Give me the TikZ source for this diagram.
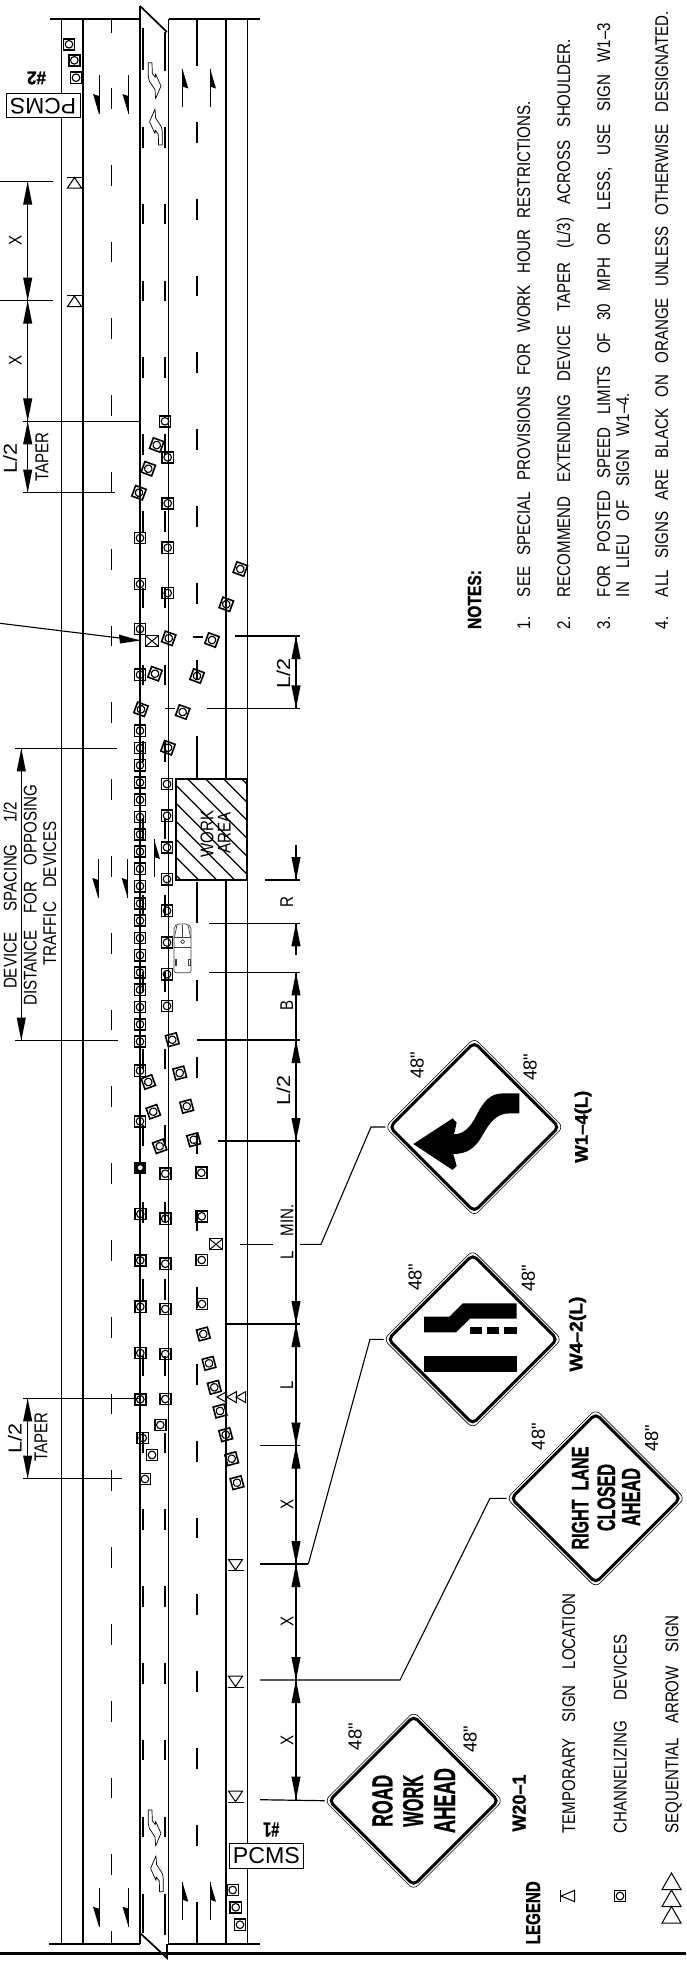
\documentclass[tikz,border=0pt]{standalone}
\usepackage{fontspec}
\usepackage{graphicx}
\setmainfont[FakeStretch=0.82]{Liberation Sans}
\newfontfamily\plainsans{Liberation Sans}
\newfontfamily\heavy[FakeBold=1.2]{Liberation Sans Bold}
\tikzset{
  road/.style={line width=.85pt,black},
  lanedash/.style={line width=.85pt,black},
  meddash/.style={line width=1pt,black},
  dimline/.style={line width=.65pt,black},
  tick/.style={line width=.6pt,black},
  leader/.style={line width=.55pt,black},
  conebox/.style={line width=.8pt,black},
  conering/.style={line width=.55pt,black},
  thinsym/.style={line width=.5pt,black},
  rt/.style={rotate=90,inner sep=0pt,outer sep=0pt,anchor=base,font=\fontsize{9.2}{10}\selectfont},
  rts/.style={rotate=90,inner sep=0pt,outer sep=0pt,anchor=base west,font=\fontsize{9.2}{10}\selectfont},
  signouter/.style={line width=.3pt,black,rounded corners=3pt,fill=white},
  signinner/.style={line width=1.5pt,black,rounded corners=2.5pt},
}
\newcommand{\cone}[3]{\begin{scope}[shift={(#1,#2)},rotate=#3]
  \draw[conebox] (-5.6,-5.6) rectangle (5.6,5.6);
  \draw[conering] (0,0) circle (3.8);
\end{scope}}
\newcommand{\ah}[3]{\fill[black] (#1,#2) -- (#1-4.6,#2-23*#3) -- (#1+4.6,#2-23*#3) -- cycle;}
\newcommand{\tsign}[3]{\begin{scope}[shift={(#1,#2)},rotate=#3]
  \draw[thinsym,line join=miter] (-7,-5.5) -- (7,-5.5) -- (0,5) -- cycle;
  \draw[thinsym] (-8,5.5) -- (8,5.5);
\end{scope}}
\newcommand{\xbox}[2]{\begin{scope}[shift={(#1,#2)}]
  \draw[thinsym,fill=white] (-6.8,-5.6) rectangle (6.8,5.6);
  \draw[thinsym] (-6.8,-5.6) -- (6.8,5.6) (-6.8,5.6) -- (6.8,-5.6);
\end{scope}}
\newcommand{\halfarrow}[4]{% x, tail y, tip y, side
  \draw[line width=.5pt] (#1,#2) -- (#1,#3);
  \pgfmathsetmacro{\dd}{(#3-#2)>0?1:-1}
  \fill[black] (#1,#3) -- (#1+#4*6,#3-\dd*20) -- (#1,#3-\dd*18) -- cycle;}
\newcommand{\turn}[3]{\begin{scope}[shift={(#1,#2)},rotate=#3]
  \draw[line width=.35pt,line join=round,black] (0,0) -- (3.7,0) -- (4,10.7) -- (7,14.7) -- (7.3,11.3) -- (12.7,23.3) -- (7.3,36) -- (6.7,27) -- (1,18.3) -- (0,13.3) -- cycle;
\end{scope}}
\newcommand{\diamondsign}[3]{% x y name
  \coordinate (#3) at (#1-89,#2);
  \draw[signouter] (#1-89,#2) -- (#1,#2-89) -- (#1+89,#2) -- (#1,#2+89) -- cycle;
  \draw[signinner] (#1-84.5,#2) -- (#1,#2-84.5) -- (#1+84.5,#2) -- (#1,#2+84.5) -- cycle;}
\newcommand{\fortyeight}[2]{\node[rotate=90,inner sep=0pt,outer sep=0pt] at (#1,#2) {\resizebox{13.5pt}{6.6pt}{\plainsans 48"}};}
\newcommand{\halfL}{\resizebox{15pt}{6.8pt}{L/2}}
\newcommand{\tapr}{\resizebox{24.5pt}{6.4pt}{TAPER}}
\begin{document}
\begin{tikzpicture}[x=.5pt,y=-.5pt,line cap=butt]
\useasboundingbox (0,0) rectangle (686,1965);
\fill[white] (0,0) rectangle (686,1965);

% --- road edges
\foreach \xx in {61.5,83,226,247.5} \draw[road] (\xx,19) -- (\xx,1944);
\draw[road] (140,6) -- (140,1944);
\draw[road] (168.5,19) -- (168.5,1944);
\draw[road] (50,19) -- (140,19);
\draw[road] (168.5,19) -- (260,19);
\draw[road] (49,1944) -- (140,1944);
\draw[road] (168,1944) -- (259.5,1944);
\draw[road] (140,6) -- (167,32);
\draw[road] (140,1933) -- (167,1958) -- (167,1944);
\draw[line width=1.3pt] (0,1953.3) -- (686,1953.3);

% --- lane dashes
\draw[lanedash] (111.5,19) -- (111.5,33);
\foreach \k in {0,...,23} \draw[lanedash] (111.5,88+76.8*\k) -- (111.5,108.7+76.8*\k);
\draw[lanedash] (111.5,1931) -- (111.5,1944);
\draw[lanedash] (197,19) -- (197,66);
\foreach \k in {0,...,7} \draw[lanedash] (197,122+76.8*\k) -- (197,142.7+76.8*\k);
\draw[lanedash] (197,736) -- (197,779);
\draw[lanedash] (197,882) -- (197,923);
\foreach \k in {0,...,11} \draw[lanedash] (197,980+76.8*\k) -- (197,1000.7+76.8*\k);
\draw[lanedash] (197,1901.5) -- (197,1944);
% --- median dashes
\draw[meddash] (143,28) -- (143,70);
\draw[meddash] (165,32) -- (165,71);
\foreach \k in {0,...,22} {
  \draw[meddash] (143,127+76.8*\k) -- (143,147.5+76.8*\k);
  \draw[meddash] (165,127+76.8*\k) -- (165,147.5+76.8*\k);
}
\draw[meddash] (143,1894) -- (143,1933);
\draw[meddash] (165,1894) -- (165,1935);

% --- work area
\draw[line width=1pt,fill=white] (176,779.3) rectangle (247.3,880);
\begin{scope}
  \clip (176,779.3) rectangle (247.3,880);
  \foreach \o in {-6,...,12} \draw[line width=.65pt] (176+\o*18-60,779.3) -- (176+\o*18+60,899.3);
\end{scope}
\draw[line width=1pt] (176,779.3) rectangle (247.3,880);
\node[rt] (wk) at (213.3,834) {WORK};
\node[rt] (ar) at (230.7,833) {AREA};

% --- travel arrows
\halfarrow{99}{75}{114}{-1}
\halfarrow{128.5}{75}{114}{-1}
\halfarrow{182.3}{107}{68.5}{1}
\halfarrow{210}{107}{68.5}{1}
\halfarrow{98.3}{859}{898}{-1}
\halfarrow{127.7}{859}{898}{-1}
\halfarrow{154}{877}{839}{1}
\halfarrow{99}{1887.7}{1926.7}{-1}
\halfarrow{128.5}{1887.7}{1926.7}{-1}
\halfarrow{182.3}{1920}{1881.7}{1}
\halfarrow{210}{1920}{1881.7}{1}
\turn{148.3}{62.7}{0}
\turn{162.3}{145}{180}
\turn{148.3}{1810}{0}
\turn{163.3}{1891.7}{180}

% --- channelizing devices
\foreach \xx/\yy/\aa in {69/44.3/0,74.3/60.3/0,76/77.7/0,
  165/421.3/0,156.7/445/-20,167.7/457.3/0,148.3/468.7/-20,139/492.7/-20,167.7/503.3/0,
  140/538/0,167.7/547.7/0,140/584/0,167.7/593/0,140/629/0,
  240.3/569/-20,226.3/604.3/-20,212/640/-20,168.7/638.3/-20,
  140/674.7/0,155/673.7/-20,197/676/-20,182.7/712/-20,141/709.3/-20,168/747.7/-20,
  172.3/1039.7/15,179.7/1073/15,186.7/1106.3/15,193.7/1139.7/15,
  140/1070.7/0,148.3/1082/20,153.3/1111.7/20,140/1121.3/0,159.7/1146.3/20,
  165.3/1173.7/0,201.3/1172.7/0,140.3/1214/0,165.3/1218.7/0,201.7/1216.3/0,
  140.3/1260.3/0,165.3/1263.7/0,201.7/1260/0,140.3/1306.7/0,165.3/1309/0,202/1304/0,
  203.3/1334/15,140.3/1353/0,165.3/1354/0,209/1363.3/15,214.3/1387.3/15,
  140.3/1399.3/0,165.3/1399/0,220/1411/15,160.3/1425/0,142.7/1438/0,152/1455/0,
  225.7/1434.7/15,231.7/1458.7/15,237/1482.7/15,145/1479/0,
  232.7/1890/0,235.7/1907.3/0,240/1924.7/0}
  {\cone{\xx}{\yy}{\aa}}
\foreach \k in {0,...,18} {\cone{140}{730.7+17.27*\k}{0}}
\foreach \k in {0,...,7} {\cone{167}{784+31.7*\k}{0}}
\fill[black] (134.2,1161.5) rectangle (146.4,1173.9);
\fill[white] (140.3,1167.7) circle (2.4);
\xbox{152}{641}
\xbox{216}{1244.3}

% --- sequential arrow on the road
\foreach \xx in {217,226.7,236}
  \draw[thinsym] (\xx,1397) -- (\xx+9.7,1391.6) -- (\xx+9.7,1402.6) -- cycle;

% --- temporary sign locations
\tsign{74.5}{182.5}{180}
\tsign{74.5}{301}{180}
\tsign{235.5}{1565}{0}
\tsign{235.5}{1681.7}{0}
\tsign{235.5}{1796.7}{0}

% --- truck
\begin{scope}[line width=.35pt,black!75]
  \draw[rounded corners=1pt] (174,927) -- (177,924) -- (188,924) -- (191,927) -- (191,972.7) -- (174,972.7) -- cycle;
  \draw (174,937) -- (191,937) (174,947) -- (191,947);
  \draw (177,925) -- (174.5,937) (188,925) -- (190.5,937) (182.5,925) -- (182.5,937);
  \draw (180.7,941.7) -- (182.7,939.7) -- (184.7,941.7) -- (182.7,943.7) -- cycle;
  \draw (175,959) rectangle (176.5,965) (188.5,959) rectangle (190,965);
\end{scope}

% --- PCMS
\node[draw,line width=.5pt,fill=white,minimum width=37pt,minimum height=12pt,inner sep=0pt,rotate=180] (pcmsa) at (43.2,105.7) {\resizebox{33pt}{7.8pt}{\plainsans PCMS}};
\node[draw,line width=.5pt,fill=white,minimum width=36.8pt,minimum height=12.2pt,inner sep=0pt] (pcmsb) at (266.3,1856) {\resizebox{33.5pt}{8pt}{\plainsans PCMS}};
\node[rotate=180,inner sep=0pt] (numb) at (36.5,78) {\resizebox{9.5pt}{6.5pt}{\heavy \#2}};
\node[rotate=180,inner sep=0pt] (numa) at (271.3,1829.5) {\resizebox{8pt}{7pt}{\heavy \#1}};

% --- upper (left) dimensions
\draw[tick] (0,181.7) -- (53,181.7);
\draw[tick] (0,300.7) -- (53,300.7);
\draw[tick] (23,421.3) -- (140,421.3);
\draw[tick] (23,492.7) -- (115,492.7);
\draw[dimline] (27.7,181.7) -- (27.7,492.7);
\ah{27.7}{181.7}{-1} \ah{27.7}{300.7}{1} \ah{27.7}{300.7}{-1} \ah{27.7}{421.3}{1} \ah{27.7}{421.3}{-1} \ah{27.7}{492.7}{1}
\node[rt] at (21.7,240.7) {X};
\node[rt] at (21.7,360) {X};
\node[rt] at (17,458) {\halfL};
\node[rt] at (48.3,456.7) {\tapr};

\draw[tick] (23,1398.3) -- (140,1398.3);
\draw[tick] (23,1478.7) -- (122,1478.7);
\draw[dimline] (27.7,1398.3) -- (27.7,1478.7);
\ah{27.7}{1398.3}{-1} \ah{27.7}{1478.7}{1}
\node[rt] at (21.7,1438) {\halfL};
\node[rt] at (47.3,1437) {\tapr};

\draw[tick] (15,748.3) -- (117,748.3);
\draw[tick] (15,1040.7) -- (117.5,1040.7);
\draw[dimline] (21.3,748.3) -- (21.3,1040.7);
\ah{21.3}{748.3}{-1} \ah{21.3}{1040.7}{1}
\node[rt] at (16.7,895.3) {\makebox[93.6pt][s]{DEVICE SPACING 1/2}};
\node[rt] at (36.7,895.3) {\makebox[110.3pt][s]{DISTANCE FOR OPPOSING}};
\node[rt] at (56,893.7) {\makebox[72pt][s]{TRAFFIC DEVICES}};

% leader to the middle
\coordinate (pt) at (140,640.5);
\draw[leader] (0,623.3) -- (pt);
\fill[black] (pt) -- (119,634.5) -- (120,643.5) -- cycle;

% --- main dimension line
\foreach \yy/\xa in {636/235,708.3/207.3,880/265,923.3/209.3,972.3/209,1040/197.3,1141/218.3,1324/227,1445.7/260}
  \draw[tick] (\xa,\yy) -- (300,\yy);
\draw[tick] (192.7,637) -- (202.7,637);
\draw[tick] (165,708.3) -- (175,708.3);
\draw[dimline] (296,636) -- (296,708.3);
\ah{296}{636}{-1} \ah{296}{708.3}{1}
\draw[dimline] (296,845) -- (296,880);
\ah{296}{880}{1}
\draw[dimline] (296,923.3) -- (296,955);
\ah{296}{923.3}{-1}
\draw[dimline] (296,972.3) -- (296,1800);
\ah{296}{972.3}{-1}
\ah{296}{1040}{-1} \ah{296}{1141}{1}
\ah{296}{1324}{1} \ah{296}{1324}{-1}
\ah{296}{1445.7}{1} \ah{296}{1445.7}{-1}
\ah{296}{1564}{1} \ah{296}{1564}{-1}
\ah{296}{1680}{1} \ah{296}{1680}{-1}
\ah{296}{1799.7}{1}
\node[rt] at (290,673.3) {\halfL};
\node[rt] at (293,901.7) {R};
\node[rt] at (293,1005) {B};
\node[rt] at (290,1090.7) {\halfL};
\node[rt] at (293.3,1232) {\makebox[27.5pt][s]{L MIN.}};
\node[rt] at (293,1385) {L};
\node[rt] at (293.3,1504.3) {X};
\node[rt] at (293.3,1621.7) {X};
\node[rt] at (293.3,1740) {X};

% --- signs
\diamondsign{474.3}{1127}{s14}
\diamondsign{472.7}{1339.3}{s42}
\diamondsign{595.7}{1498.3}{srl}
\diamondsign{413.7}{1800.7}{srw}

% leaders
\draw[tick] (240,1244.3) -- (272.7,1244.3);
\draw[leader] (300,1244.3) -- (321,1244.3) -- (371,1127) -- (s14);
\draw[tick] (260,1564) -- (308.3,1564);
\draw[leader] (308.3,1564) -- (370,1339.3) -- (s42);
\draw[leader] (260,1680) -- (400,1680) -- (490,1498.3) -- (srl);
\draw[tick] (260,1799.7) -- (srw);

% W1-4 arrow, W4-2 graphic
\begin{scope}[shift={(360,1030)},x=.5pt/3,y=-.5pt/3]
  \fill[black] (478,190) -- (430,190) .. controls (390,190) and (370,215) .. (350,255) .. controls (330,295) and (310,312) .. (282,313) -- (290,278) -- (278,265) -- (160,342) -- (278,420) -- (290,408) -- (280,372) .. controls (320,372) and (345,355) .. (365,320) .. controls (390,275) and (410,250) .. (450,250) -- (478,250) -- cycle;
  \fill[black] (192,979) rectangle (470,1027);
  \fill[black] (192,860) -- (268,860) -- (308,820) -- (470,820) -- (470,866) -- (330,866) -- (288,907) -- (192,907) -- cycle;
  \fill[black] (330,890) rectangle (366,913);
  \fill[black] (382,890) rectangle (418,913);
  \fill[black] (433,890) rectangle (470,913);
\end{scope}

% sign lettering
\tikzset{sl/.style={rotate=90,inner sep=0pt,outer sep=0pt,anchor=base}}
\node[sl] at (588.3,1498) {\resizebox{51.5pt}{8.3pt}{\heavy RIGHT\ \ LANE}};
\node[sl] at (615,1497.5) {\resizebox{33.5pt}{8.8pt}{\heavy CLOSED}};
\node[sl] at (640,1497) {\resizebox{29pt}{9pt}{\heavy AHEAD}};
\node[sl] at (392.3,1800.8) {\resizebox{26pt}{10pt}{\heavy ROAD}};
\node[sl] at (423,1800.8) {\resizebox{26pt}{10pt}{\heavy WORK}};
\node[sl] at (455,1800.5) {\resizebox{32.5pt}{10.3pt}{\heavy AHEAD}};

% 48" labels
\fortyeight{417}{1065} \fortyeight{530}{1067}
\fortyeight{415}{1277} \fortyeight{528.3}{1278}
\fortyeight{538.3}{1436.7} \fortyeight{651.7}{1438}
\fortyeight{355}{1736.7} \fortyeight{470}{1739}

% sign names
\node[sl] at (587.7,1126.7) {\resizebox{36pt}{6.6pt}{\heavy W1–4(L)}};
\node[sl] at (582.3,1334) {\resizebox{37.5pt}{6.6pt}{\heavy W4–2(L)}};
\node[sl] at (525.7,1803) {\resizebox{28.5pt}{6.6pt}{\heavy W20–1}};

% --- legend
\node[sl] at (540,1912.7) {\resizebox{31.5pt}{7pt}{\heavy LEGEND}};
\node[rts] at (575,1833.3) {\makebox[120pt][s]{TEMPORARY SIGN LOCATION}};
\node[rts] at (626.7,1833.3) {\makebox[99.5pt][s]{CHANNELIZING DEVICES}};
\node[rts] at (678.3,1833.3) {\makebox[109pt][s]{SEQUENTIAL ARROW SIGN}};
\draw[thinsym] (560.5,1890.3) -- (560.5,1901.7);
\draw[thinsym] (561,1896) -- (574.7,1890.3) -- (574.7,1901.7) -- cycle;
\cone{620}{1896}{0}
\foreach \yy in {1873,1890,1906.5}
  \draw[thinsym] (671.5,\yy) -- (681,\yy+16.5) -- (662,\yy+16.5) -- cycle;

% --- notes
\node[sl] at (481,599.5) {\resizebox{29.5pt}{6.6pt}{\heavy NOTES:}};
\foreach \xx/\nn in {530/1,570/2,610/3,668/4}
  \node[rts] at (\xx,629) {\nn.};
\node[rts] at (530,597) {\makebox[247.7pt][s]{SEE SPECIAL PROVISIONS FOR WORK HOUR RESTRICTIONS.}};
\node[rts] at (570,597) {\makebox[279pt][s]{RECOMMEND EXTENDING DEVICE TAPER (L/3) ACROSS SHOULDER.}};
\node[rts] at (610,597) {\makebox[287pt][s]{FOR POSTED SPEED LIMITS OF 30 MPH OR LESS, USE SIGN W1–3}};
\node[rts] at (629,597) {\makebox[102pt][s]{IN LIEU OF SIGN W1–4.}};
\node[rts] at (668,597) {\makebox[292.7pt][s]{ALL SIGNS ARE BLACK ON ORANGE UNLESS OTHERWISE DESIGNATED.}};
\end{tikzpicture}
\end{document}
